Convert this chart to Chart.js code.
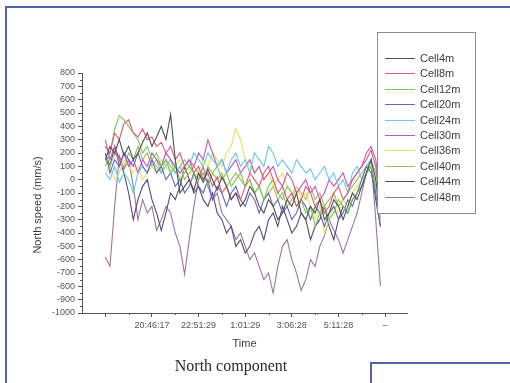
<!DOCTYPE html>
<html>
<head>
<meta charset="utf-8">
<script src="https://cdn.jsdelivr.net/npm/chart.js@4.4.1/dist/chart.umd.min.js"></script>
<style>
  html, body { margin: 0; padding: 0; background: #fff; }
  #wrap { position: relative; width: 510px; height: 383px; overflow: hidden; background: #fff; }
  #chart { position: absolute; left: 0; top: 0; }
  .frame { position: absolute; border: 0 solid #5262ad; }
  #caption { position: absolute; left: 0; width: 462px; top: 357px; text-align: center;
             font: 16px 'Liberation Serif', 'Times New Roman', serif; color: #2a2a2a; }
</style>
</head>
<body>
<div id="wrap">
  <canvas id="chart" width="510" height="383"></canvas>
  <div class="frame" style="left:5px; top:6px; width:510px; height:380px; border-top-width:2px; border-left-width:2px;"></div>
  <div class="frame" style="left:370px; top:362px; width:150px; height:30px; border-top-width:2px; border-left-width:2px;"></div>
  <div id="caption">North component</div>
</div>
<script>
// x axis: one sample every 1/10 of a major tick interval
const timeLabels = ['', '20:46:17', '22:51:29', '1:01:29', '3:06:28', '5:11:28', '–'];
const seriesNames = ['Cell4m', 'Cell8m', 'Cell12m', 'Cell20m', 'Cell24m', 'Cell30m', 'Cell36m', 'Cell40m', 'Cell44m', 'Cell48m'];
const seriesColors = ['#505050', '#e2587a', '#74cc56', '#6464bc', '#66cae6', '#c254c2', '#e4e45a', '#aab65a', '#55487e', '#9e74a0'];

const cell4m = [150, 250, 200, 300, 180, 250, 150, 200, 280, 350, 250, 320, 400, 300, 490, 150, -100, -50, 0, -80,
  50, -20, 80, 0, -80, 20, -50, -150, -100, -200, -150, -50, -100, -200, -250, -150, -200, -300, -250, -150,
  -200, -100, -250, -300, -200, -250, -150, -300, -250, -150, -200, -300, -200, -100, -150, -50, 50, 150, 0, -250];
const cell8m = [250, 200, 350, 300, 420, 450, 350, 320, 380, 300, 320, 250, 280, 200, 250, 150, 200, 100, 150, 50,
  100, 0, 50, -50, 20, -100, -50, -150, -100, -150, -50, 50, 0, -50, 50, 100, 0, -100, -50, -150,
  -100, -200, -150, -50, -100, -200, -150, -250, -200, -100, -50, -150, -100, 0, 50, 100, 150, 220, 100, -200];
const cell12m = [100, 200, 380, 480, 450, 400, 350, 300, 200, 250, 150, 200, 100, 150, 50, 100, 0, 50, 100, 50,
  0, 50, -50, 50, 100, 0, 50, -50, 0, 50, -50, 0, -100, -50, -150, -50, 0, -100, -150, -50,
  -100, -200, -150, -250, -200, -350, -250, -200, -300, -250, -150, -200, -250, -150, -100, -50, 50, 100, -50, -300];
const cell20m = [200, 50, 150, 100, 200, 150, 100, 200, 100, 50, 150, 50, 100, 0, 50, -50, 0, -100, -50, 50,
  -50, -100, 0, -150, -50, -100, -200, -100, -50, -150, -200, -100, -150, -250, -150, -100, -200, -150, -250, -200,
  -300, -250, -150, -200, -300, -200, -250, -350, -250, -200, -300, -250, -150, -200, -100, 0, 100, 50, -100, -350];
const cell24m = [50, 0, 100, -20, 50, 0, -100, 50, 100, 50, 150, 100, 50, 150, 100, 50, 100, 150, 100, 200,
  150, 100, 200, 150, 100, 150, 50, 150, 200, 100, 150, 50, 200, 150, 100, 250, 200, 100, 150, 100,
  50, 150, 100, 50, 80, 0, 50, 100, 0, 50, -50, 0, -100, 50, 100, 0, 100, 150, 50, -100];
const cell30m = [300, 150, 250, 100, 200, 100, 150, 50, 150, 100, 200, 150, 100, 200, 150, 100, 50, 100, 150, 100,
  200, 150, 300, 200, 100, 150, 50, 100, 150, 50, 100, 150, 50, 100, 0, 50, 100, 0, -50, 50,
  0, -100, -50, 0, -100, -50, -150, -100, 0, -50, 0, 50, -50, 0, 50, 100, 200, 250, 150, -150];
const cell36m = [50, 100, 0, 50, 150, 100, 50, 100, 0, 50, 100, 50, 150, 100, 50, 100, 150, 50, 100, 0,
  50, 150, 100, 200, 150, 100, 200, 250, 380, 300, 150, 100, 50, 100, 0, 50, -50, 0, 50, -50,
  -100, -50, -150, -100, -200, -300, -200, -400, -300, -200, -250, -150, -200, -100, -50, 0, 50, 100, 0, -200];
const cell40m = [150, 100, 200, 150, 100, 200, 150, 250, 150, 200, 100, 150, 50, 100, 150, 50, 100, 0, 50, 100,
  50, 0, 100, 50, 0, 50, -50, 0, 50, 0, -50, 0, -100, -50, -150, -100, -50, -150, -100, -200,
  -150, -50, -100, -150, -50, -150, -100, -200, -150, -100, -200, -150, -100, -50, 0, 50, 100, 150, -100, -300];
const cell44m = [200, 100, 250, 150, 50, -100, -300, -150, -50, 0, -150, -250, -380, -250, -100, -150, -50, 100, 0, -100,
  -50, -150, -200, -100, -250, -300, -400, -350, -500, -450, -550, -500, -400, -350, -450, -300, -250, -350, -200, -300,
  -400, -350, -250, -300, -450, -350, -300, -200, -350, -450, -300, -200, -250, -150, -100, -50, 50, 100, -150, -350];
const cell48m = [-580, -650, -200, 180, 80, 150, -50, -300, -150, -250, -200, -380, -300, -200, -250, -400, -500, -710, -450, -200,
  0, 100, -50, -150, -100, -250, -300, -350, -450, -400, -500, -600, -550, -650, -750, -700, -850, -650, -500, -450,
  -600, -700, -830, -750, -600, -650, -500, -420, -300, -380, -450, -550, -450, -350, -250, -100, 50, 150, -300, -800];

const seriesValues = [cell4m, cell8m, cell12m, cell20m, cell24m, cell30m, cell36m, cell40m, cell44m, cell48m];

const axisColor = '#555';
const labelFont = '"Liberation Sans", Arial, sans-serif';

// minor ticks, y title and legend box drawn over the plot
const overlayPlugin = {
    id: 'overlay',
    afterDraw(chart) {
        const ctx = chart.ctx;
        const xs = chart.scales.x;
        const ys = chart.scales.y;
        ctx.save();
        ctx.strokeStyle = axisColor;
        ctx.lineWidth = 1;
        ctx.beginPath();
        for (let v = ys.min + 50; v < ys.max; v += 100) {
            const py = Math.round(ys.getPixelForValue(v)) + 0.5;
            ctx.moveTo(xs.left - 2, py);
            ctx.lineTo(xs.left, py);
        }
        for (let v = 5; v < xs.max; v += 10) {
            const px = Math.round(xs.getPixelForValue(v)) + 0.5;
            ctx.moveTo(px, ys.bottom);
            ctx.lineTo(px, ys.bottom + 2);
        }
        ctx.stroke();

        // y axis title, a bit below the middle as in the scan
        ctx.save();
        ctx.translate(38, 205);
        ctx.rotate(-Math.PI / 2);
        ctx.font = '11px ' + labelFont;
        ctx.fillStyle = '#3c3c3c';
        ctx.textAlign = 'center';
        ctx.textBaseline = 'middle';
        ctx.fillText('North speed (mm/s)', 0, 0);
        ctx.restore();

        // legend
        const bx = 377, by = 32, bw = 98, bh = 181;
        ctx.fillStyle = '#fff';
        ctx.fillRect(bx, by, bw, bh);
        ctx.strokeStyle = '#8c8c8c';
        ctx.strokeRect(bx + 0.5, by + 0.5, bw, bh);
        ctx.font = '11px ' + labelFont;
        ctx.textBaseline = 'middle';
        chart.data.datasets.forEach((ds, k) => {
            const ly = Math.round(by + 26 + k * 15.4) + 0.5;
            ctx.strokeStyle = ds.borderColor;
            ctx.beginPath();
            ctx.moveTo(bx + 8, ly);
            ctx.lineTo(bx + 38, ly);
            ctx.stroke();
            ctx.fillStyle = '#3c3c3c';
            ctx.fillText(ds.label, bx + 43, ly);
        });
        ctx.restore();
    }
};

const datasets = seriesNames.map((name, k) => ({
    label: name,
    data: seriesValues[k].map((v, i) => ({ x: i, y: v })),
    borderColor: seriesColors[k],
    backgroundColor: seriesColors[k],
    borderWidth: 1.1,
    pointRadius: 0,
    tension: 0,
    fill: false
}));

new Chart(document.getElementById('chart'), {
    type: 'line',
    data: { datasets: datasets },
    options: {
        responsive: false,
        animation: false,
        events: [],
        layout: { padding: { left: 0, top: 73, right: 103, bottom: 0 } },
        plugins: {
            legend: { display: false },
            tooltip: { enabled: false }
        },
        scales: {
            x: {
                type: 'linear',
                min: -5,
                max: 64.7,
                afterBuildTicks: (scale) => {
                    scale.ticks = timeLabels.map((t, k) => ({ value: k * 10 }));
                },
                afterFit: (scale) => { scale.height = 70; },
                ticks: {
                    callback: (v) => timeLabels[Math.round(v / 10)],
                    color: axisColor,
                    font: { size: 9, family: labelFont },
                    padding: 3,
                    maxRotation: 0,
                    autoSkip: false
                },
                grid: { display: true, drawOnChartArea: false, drawTicks: true, tickLength: 4, tickColor: axisColor },
                border: { display: true, color: axisColor, width: 1 },
                title: {
                    display: true,
                    text: 'Time',
                    color: '#3c3c3c',
                    font: { size: 11, family: labelFont },
                    padding: { top: 0, bottom: 32 }
                }
            },
            y: {
                type: 'linear',
                min: -1000,
                max: 800,
                afterFit: (scale) => { scale.width = 82; },
                ticks: {
                    stepSize: 100,
                    callback: (v) => String(v),
                    color: axisColor,
                    font: { size: 9, family: labelFont },
                    padding: 3,
                    autoSkip: false
                },
                grid: { display: true, drawOnChartArea: false, drawTicks: true, tickLength: 4, tickColor: axisColor },
                border: { display: true, color: axisColor, width: 1 }
            }
        }
    },
    plugins: [overlayPlugin]
});
</script>
</body>
</html>
